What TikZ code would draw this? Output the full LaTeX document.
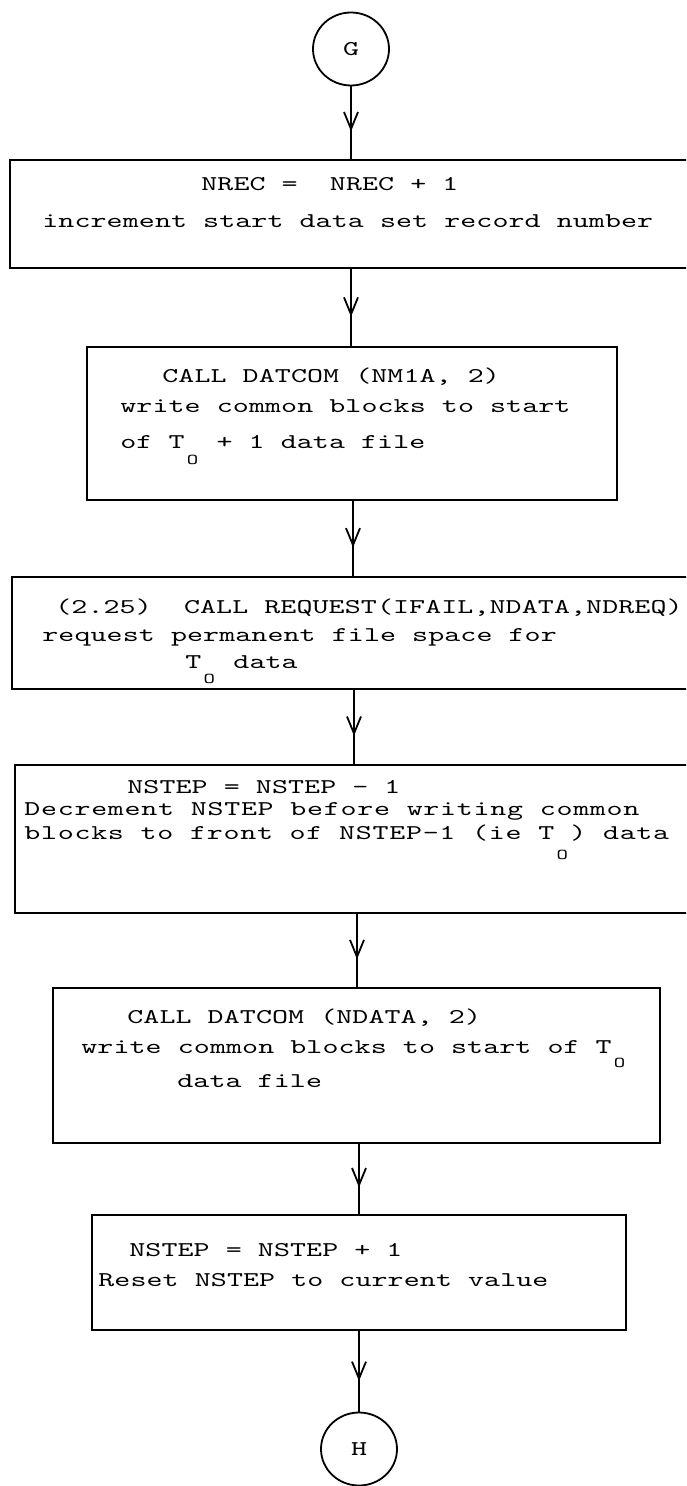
\documentclass[tikz,border=0pt]{standalone}
\usepackage{fontspec}
\usetikzlibrary{arrows.meta,decorations.markings,shapes.geometric,fit}

% typewriter face: wide letters on a fixed pitch
\newfontfamily\twfont[FakeStretch=1.45,LetterSpace=0.5]{lmmono10-regular.otf}
\newfontfamily\twwidefont[FakeStretch=1.45,LetterSpace=3.5]{lmmono10-regular.otf}
\newcommand\tw{\twfont\fontsize{10.5}{12}\selectfont}
\newcommand\twwide{\twwidefont\fontsize{10.5}{12}\selectfont}
% lowered small O after T, one character cell wide
\newcommand\lowO[1][7.5pt]{\makebox[8pt][c]{\raisebox{-#1}{\fontsize{7.5}{7.5}\selectfont O}}}

\begin{document}
\begin{tikzpicture}[x=0.5pt,y=-0.5pt,
  box/.style={draw, line width=1pt, inner sep=0pt, fit={#1}},
  conn/.style={draw, ellipse, line width=0.9pt, inner sep=0pt,
    minimum width=38pt, minimum height=36.5pt, font=\tw},
  txt/.style={anchor=base west, inner sep=0pt, font=\tw},
  flow/.style={line width=0.9pt, postaction={decorate},
    decoration={markings, mark=at position 0.62 with
      {\arrow{Straight Barb[length=8.5pt,width=7pt,line width=0.9pt]}}}}]

\useasboundingbox (0,0) rectangle (686,1486);
\clip (0,0) rectangle (686,1486);
\fill[white] (0,0) rectangle (686,1486);

% connectors at top and bottom
\node[conn] (G) at (351,49) {G};
\node[conn] (H) at (359,1449) {H};

% process boxes
\node[box={(9.6,160) (700,268)}] (b1) {};
\node[box={(87,347) (617,500)}] (b2) {};
\node[box={(12,577) (700,689)}] (b3) {};
\node[box={(15,765) (700,913)}] (b4) {};
\node[box={(52.5,988) (660,1143)}] (b5) {};
\node[box={(92,1215) (626,1330)}] (b6) {};

% box texts
\node[txt] (t1a) at (201,191) {NREC =~ NREC + 1};
\node[txt] (t1b) at (42,228) {increment start data set record number};

\node[txt] (t2a) at (162,383) {CALL DATCOM (NM1A, 2)};
\node[txt] (t2b) at (120,413) {write common blocks to start};
\node[txt] (t2c) at (120,448) {of T\lowO[8pt] + 1 data file};

\node[txt] (t3a) at (55,613) {(2.25)~ CALL REQUEST(IFAIL,NDATA,NDREQ)};
\node[txt] (t3b) at (42,641) {request permanent file space for};
\node[txt] (t3c) at (185,668) {T\lowO[7.5pt] data};

\node[txt] (t4a) at (127,793) {NSTEP = NSTEP - 1};
\node[txt, font=\twwide] (t4b) at (24,815) {Decrement NSTEP before writing common};
\node[txt, font=\twwide] (t4c) at (24,839) {blocks to front of NSTEP-1 (ie T\lowO[10pt]) data};

\node[txt] (t5a) at (127,1023) {CALL DATCOM (NDATA, 2)};
\node[txt] (t5b) at (81,1053) {write common blocks to start of T\lowO[7pt]};
\node[txt] (t5c) at (177,1087) {data file};

\node[txt] (t6a) at (129,1256) {NSTEP = NSTEP + 1};
\node[txt] (t6b) at (98,1286) {Reset NSTEP to current value};

% flow lines
\draw[flow] (G) -- (G |- b1.north);
\draw[flow] (b1.south -| G) -- (b2.north -| G);
\draw[flow] ([xshift=1pt]b2.south -| G) -- ([xshift=1pt]b3.north -| G);
\draw[flow] ([xshift=1.5pt]b3.south -| G) -- ([xshift=1.5pt]b4.north -| G);
\draw[flow] ([xshift=-1pt]b4.south -| H) -- ([xshift=-1pt]b5.north -| H);
\draw[flow] (b5.south -| H) -- (b6.north -| H);
\draw[flow] (b6.south -| H) -- (H);
\end{tikzpicture}
\end{document}
